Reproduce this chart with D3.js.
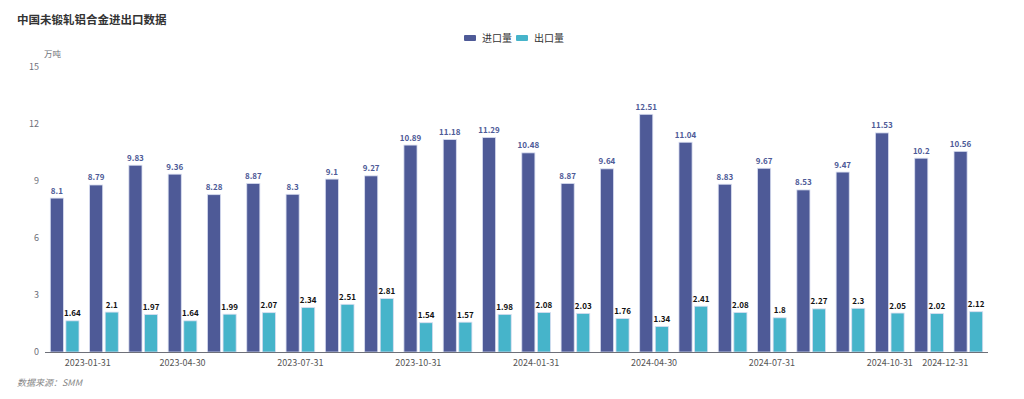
<!DOCTYPE html>
<html>
<head>
<meta charset="utf-8">
<script src="https://cdn.jsdelivr.net/npm/d3@7"></script>
<style>
  body { margin: 0; background: #fff; }
  svg { display: block; font-family: "Noto Sans CJK SC", "Noto Sans", sans-serif; }
</style>
</head>
<body>
<svg id="chart"></svg>
<script>
const months = ["2023-01-31","2023-02-28","2023-03-31","2023-04-30","2023-05-31","2023-06-30",
    "2023-07-31","2023-08-31","2023-09-30","2023-10-31","2023-11-30","2023-12-31",
    "2024-01-31","2024-02-29","2024-03-31","2024-04-30","2024-05-31","2024-06-30",
    "2024-07-31","2024-08-31","2024-09-30","2024-10-31","2024-11-30","2024-12-31"];
const importVals = [8.1, 8.79, 9.83, 9.36, 8.28, 8.87, 8.3, 9.1, 9.27, 10.89, 11.18, 11.29,
    10.48, 8.87, 9.64, 12.51, 11.04, 8.83, 9.67, 8.53, 9.47, 11.53, 10.2, 10.56];
const exportVals = [1.64, 2.1, 1.97, 1.64, 1.99, 2.07, 2.34, 2.51, 2.81, 1.54, 1.57, 1.98,
    2.08, 2.03, 1.76, 1.34, 2.41, 2.08, 1.8, 2.27, 2.3, 2.05, 2.02, 2.12];
const seriesNames = ["进口量", "出口量"];
const yTicks = [0, 3, 6, 9, 12, 15];

const width = 1024, height = 399;
const colors = {"进口量": "#4e5a97", "出口量": "#46b4ca"};

const svg = d3.select("#chart").attr("width", width).attr("height", height);

const data = months.map((m, i) => ({date: m, "进口量": importVals[i], "出口量": exportVals[i]}));

const x0 = d3.scaleBand()
    .domain(months)
    .range([45, 988])
    .paddingInner(0.27)
    .paddingOuter(0.135);
const x1 = d3.scaleBand()
    .domain(seriesNames)
    .range([0, x0.bandwidth()])
    .paddingInner(0.16);
const y = d3.scaleLinear().domain([0, 15]).range([352, 67]);

// title
svg.append("text")
    .attr("x", 17).attr("y", 24)
    .attr("font-size", 11.5).attr("font-weight", "bold").attr("fill", "#333")
    .text("中国未锻轧铝合金进出口数据");

// legend
const legend = svg.append("g");
const legendX = [464, 516];
seriesNames.forEach((s, i) => {
    legend.append("rect")
        .attr("x", legendX[i]).attr("y", 35)
        .attr("width", 12).attr("height", 6).attr("rx", 1)
        .attr("fill", colors[s]);
    legend.append("text")
        .attr("x", legendX[i] + 18).attr("y", 42)
        .attr("font-size", 10).attr("fill", "#333")
        .text(s);
});

// y axis (no line, just labels)
const yAxis = svg.append("g")
    .attr("transform", "translate(45,0)")
    .call(d3.axisLeft(y).tickValues(yTicks).tickSize(0).tickPadding(6));
yAxis.select(".domain").remove();
yAxis.selectAll("text").attr("font-size", 9).attr("fill", "#6e7079")
    .attr("font-family", "\"Noto Sans CJK SC\", sans-serif");

svg.append("text")
    .attr("x", 44).attr("y", 57)
    .attr("font-size", 8.5).attr("fill", "#6e7079")
    .text("万吨");

// bars
const groups = svg.selectAll(".grp").data(data).enter().append("g")
    .attr("class", "grp")
    .attr("transform", d => "translate(" + x0(d.date) + ",0)");

groups.selectAll("rect").data(d => seriesNames.map(s => ({key: s, value: d[s]})))
    .enter().append("rect")
    .attr("x", d => x1(d.key))
    .attr("y", d => y(d.value))
    .attr("width", x1.bandwidth())
    .attr("height", d => y(0) - y(d.value))
    .attr("fill", d => colors[d.key])
    .attr("stroke", "#d8ddf0")
    .attr("stroke-width", 0.8);

groups.selectAll(".lbl").data(d => seriesNames.map(s => ({key: s, value: d[s]})))
    .enter().append("text")
    .attr("class", "lbl")
    .attr("x", d => x1(d.key) + x1.bandwidth() / 2)
    .attr("y", d => y(d.value) - 4.5)
    .attr("text-anchor", "middle")
    .attr("font-size", 8)
    .attr("font-weight", "bold")
    .attr("fill", d => d.key === "进口量" ? "#4e5a97" : "#111")
    .text(d => d.value);

// x axis
const shown = months.filter((m, i) => i % 3 === 0 || i === months.length - 1);
const xAxis = svg.append("g")
    .attr("transform", "translate(0," + y(0) + ")")
    .call(d3.axisBottom(x0).tickValues(shown).tickSize(0).tickPadding(8));
xAxis.select(".domain").attr("stroke", "#6e7079").attr("d", "M45,0.5H988");
xAxis.selectAll("text")
    .attr("font-size", 9).attr("fill", "#555")
    .attr("font-family", "\"Noto Sans CJK SC\", sans-serif")
    .attr("text-anchor", d => d === months[0] ? "start" : (d === months[months.length - 1] ? "end" : "middle"));

// source
svg.append("text")
    .attr("x", 17).attr("y", 386)
    .attr("font-size", 9).attr("font-style", "italic").attr("fill", "#888")
    .text("数据来源：SMM");
</script>
</body>
</html>
